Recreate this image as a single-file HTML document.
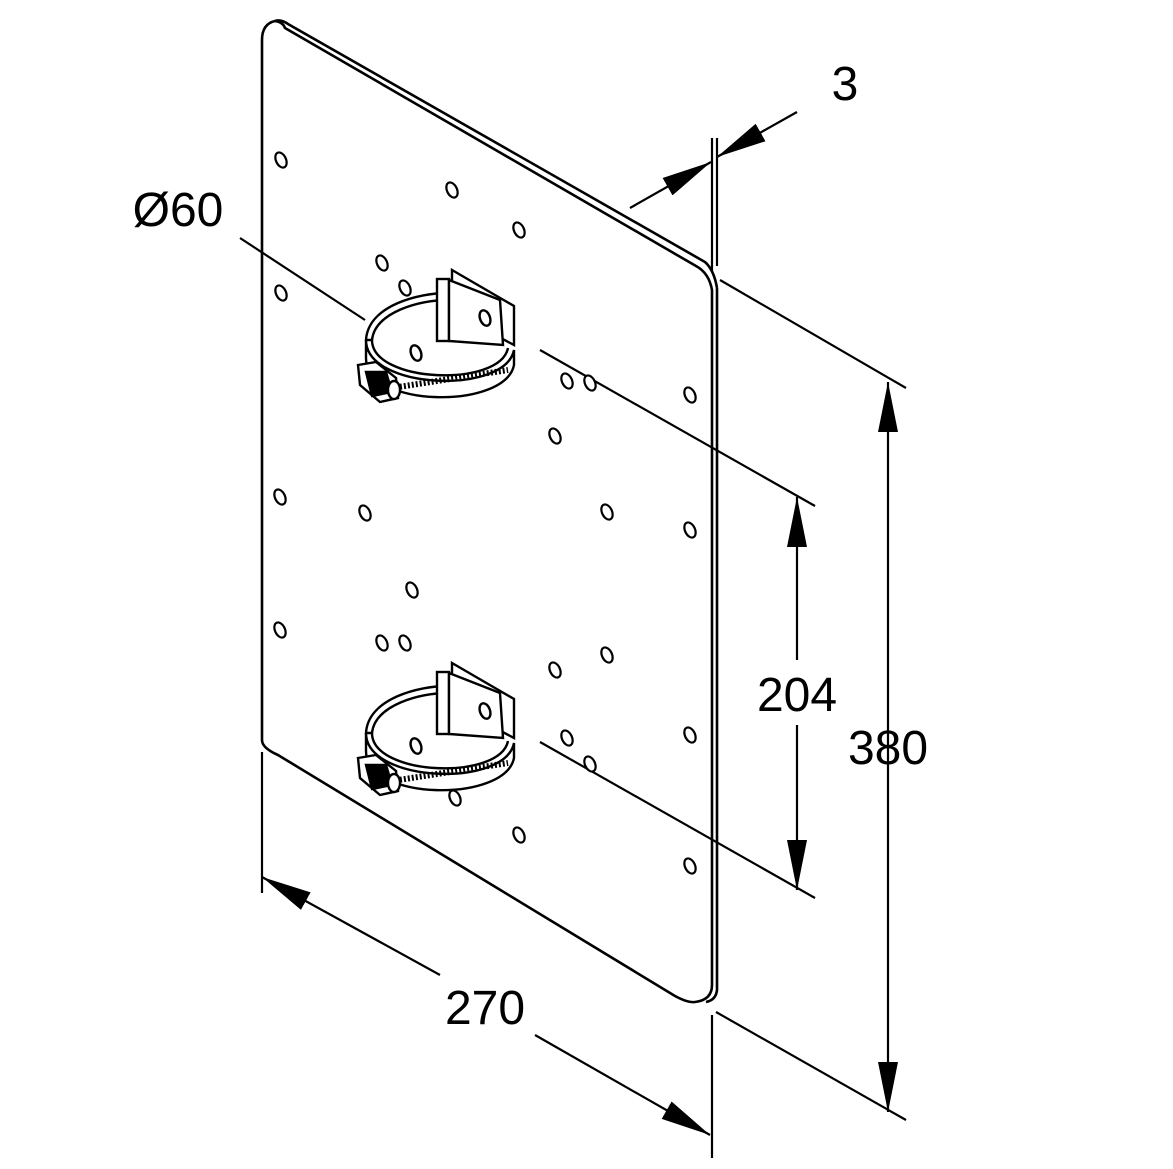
<!DOCTYPE html>
<html><head><meta charset="utf-8"><style>
html,body{margin:0;padding:0;background:#fff;}
svg{display:block;}
text{font-family:"Liberation Sans",sans-serif;fill:#000;}
</style></head><body>
<svg width="1173" height="1169" viewBox="0 0 1173 1169" xmlns="http://www.w3.org/2000/svg">
<defs>
<g id="hole"><ellipse cx="0" cy="0" rx="5" ry="8" transform="rotate(-25)" fill="#fff" stroke="#000" stroke-width="2.2"/></g>
<g id="clamp" fill="#fff" stroke="#000" stroke-width="2.4">
  <path d="M366,340 C368,305 420,293 447,293 L447,300 C420,300 375,312 372,340 Z"/>
  <path d="M452,270 L514,306 L514,345 L452,312 Z"/>
  <rect x="437" y="279" width="12" height="62"/>
  <path d="M449,280 L500,300 L503,345 L449,341 Z"/>
  <ellipse cx="485" cy="318" rx="5" ry="8" transform="rotate(-20 485 318)"/>
  <path d="M366,340 C366,390 505,395 514,350 L514,365 C505,410 366,408 366,358 Z" fill="#fff"/>
  <path d="M372,340 C372,383 500,388 508,348" fill="none"/>
  <ellipse cx="416" cy="353" rx="5" ry="8" transform="rotate(-20 416 353)"/>
  <path d="M392,388 L508,370" stroke-dasharray="2 2" stroke-width="6" fill="none"/>
  <path d="M358,365 L376,362 L396,378 L398,398 L380,402 L360,385 Z"/>
  <path d="M366,372 L386,372 L392,392 L372,396 Z" fill="#000"/>
  <ellipse cx="394" cy="390" rx="6" ry="9" fill="#fff"/>
</g>
<marker id="a" viewBox="0 0 50 20" refX="50" refY="10" markerWidth="50" markerHeight="20" markerUnits="userSpaceOnUse" orient="auto"><path d="M0,0 L50,10 L0,20 Z" fill="#000"/></marker>
</defs>

<g fill="none" stroke="#000" stroke-width="2.6">
  <path d="M262,740 L262,40 Q262,24 275,21"/>
  <path d="M275,21 Q281,19 288,24 L705,262 Q714,270 717,288"/>
  <path d="M275,21 Q283,22 285,28 L696,266 Q709,273 712,290 L712,985 Q712,1000 695,1002 Q688,1003 675,996 L278,755 Q262,748 262,740"/>
  <path d="M717,288 L717,990 Q716,1000 706,1002"/>
  <line x1="712" y1="138" x2="712" y2="272" stroke-width="2.2"/>
  <line x1="717" y1="138" x2="717" y2="266" stroke-width="2.2"/>
  <line x1="712" y1="1015" x2="712" y2="1158" stroke-width="2.2"/>
  <line x1="716" y1="1012" x2="906" y2="1120" stroke-width="2.2"/>
  <line x1="720" y1="280" x2="906" y2="388" stroke-width="2.2"/>
  <line x1="540" y1="350" x2="815" y2="506" stroke-width="2.2"/>
  <line x1="540" y1="742" x2="815" y2="898" stroke-width="2.2"/>
  <line x1="262" y1="752" x2="262" y2="893" stroke-width="2.2"/>
  <line x1="240" y1="238" x2="365" y2="320" stroke-width="2.2"/>
  <line x1="888" y1="430" x2="888" y2="382" stroke-width="2.2" marker-end="url(#a)"/>
  <line x1="888" y1="1060" x2="888" y2="1112" stroke-width="2.2" marker-end="url(#a)"/>
  <line x1="888" y1="430" x2="888" y2="1060" stroke-width="2.2"/>
  <line x1="797" y1="545" x2="797" y2="497" stroke-width="2.2" marker-end="url(#a)"/>
  <line x1="797" y1="840" x2="797" y2="890" stroke-width="2.2" marker-end="url(#a)"/>
  <line x1="797" y1="545" x2="797" y2="660" stroke-width="2.2"/>
  <line x1="797" y1="725" x2="797" y2="840" stroke-width="2.2"/>
  <line x1="440" y1="975" x2="262" y2="877" stroke-width="2.2" marker-end="url(#a)"/>
  <line x1="535" y1="1035" x2="710" y2="1135" stroke-width="2.2" marker-end="url(#a)"/>
  <line x1="630" y1="208" x2="711" y2="162" stroke-width="2.2" marker-end="url(#a)"/>
  <line x1="797" y1="112" x2="717" y2="157" stroke-width="2.2" marker-end="url(#a)"/>
</g>

<g>
<use href="#hole" x="281" y="160"/><use href="#hole" x="452" y="190"/><use href="#hole" x="519" y="230"/>
<use href="#hole" x="382" y="263"/><use href="#hole" x="405" y="288"/><use href="#hole" x="281" y="293"/>
<use href="#hole" x="567" y="381"/><use href="#hole" x="590" y="383"/><use href="#hole" x="690" y="395"/>
<use href="#hole" x="555" y="436"/><use href="#hole" x="280" y="497"/><use href="#hole" x="365" y="513"/>
<use href="#hole" x="607" y="512"/><use href="#hole" x="690" y="530"/><use href="#hole" x="412" y="590"/>
<use href="#hole" x="280" y="630"/><use href="#hole" x="382" y="643"/><use href="#hole" x="405" y="643"/>
<use href="#hole" x="607" y="655"/><use href="#hole" x="555" y="670"/><use href="#hole" x="690" y="735"/>
<use href="#hole" x="567" y="738"/><use href="#hole" x="590" y="764"/><use href="#hole" x="455" y="798"/>
<use href="#hole" x="519" y="835"/><use href="#hole" x="690" y="866"/>
</g>

<use href="#clamp"/>
<use href="#clamp" y="393"/>

<g font-size="48">
<text x="845" y="100" text-anchor="middle">3</text>
<text x="178" y="226" text-anchor="middle">Ø60</text>
<text x="797" y="711" text-anchor="middle">204</text>
<text x="888" y="764" text-anchor="middle">380</text>
<text x="485" y="1024" text-anchor="middle">270</text>
</g>
</svg>
</body></html>
